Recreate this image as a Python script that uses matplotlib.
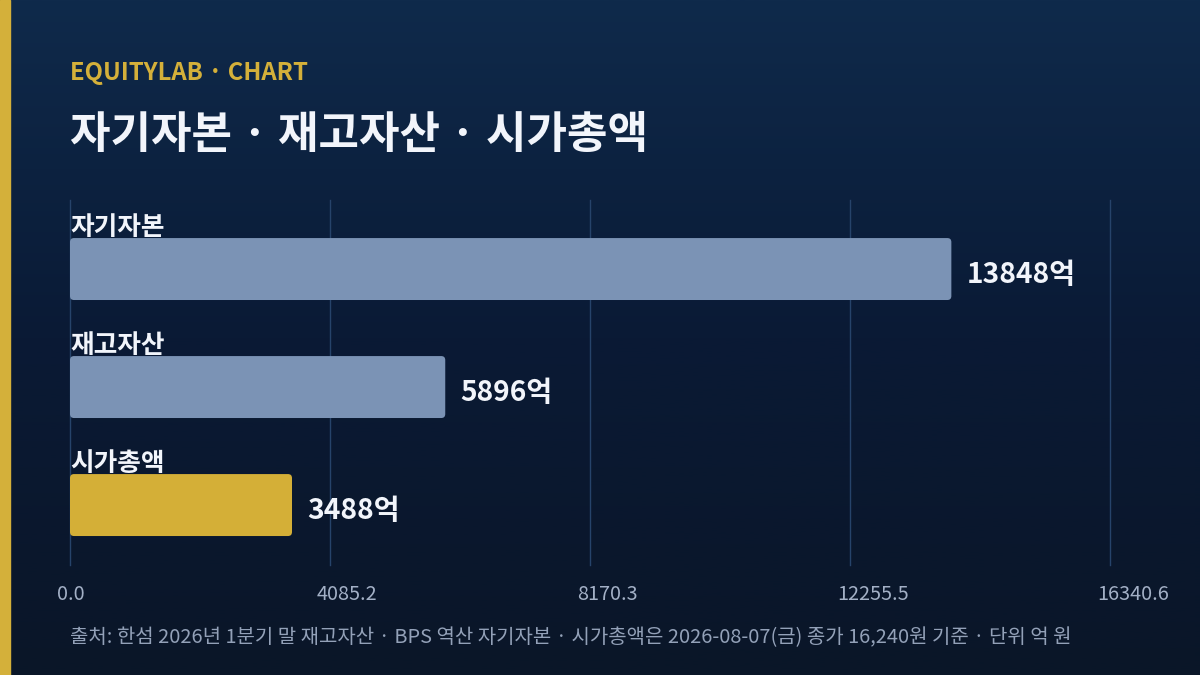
import matplotlib
matplotlib.use("Agg")
import matplotlib.pyplot as plt
import matplotlib.transforms as mtransforms
import numpy as np
from matplotlib.colors import LinearSegmentedColormap
from matplotlib.patches import FancyBboxPatch, Rectangle

plt.rcParams["font.family"] = ["Noto Sans CJK KR", "DejaVu Sans"]

# data
categories = ["자기자본", "재고자산", "시가총액"]
values = [13848, 5896, 3488]
value_labels = ["13848억", "5896억", "3488억"]
bar_colors = ["#7b93b5", "#7b93b5", "#d4af37"]
x_max = 16340.6
x_ticks = [0.0, 4085.2, 8170.3, 12255.5, 16340.6]

kicker = "EQUITYLAB · CHART"
title = "자기자본 · 재고자산 · 시가총액"
footer = "출처: 한섬 2026년 1분기 말 재고자산 · BPS 역산 자기자본 · 시가총액은 2026-08-07(금) 종가 16,240원 기준 · 단위 억 원"

W, H = 1200, 675
fig = plt.figure(figsize=(12, 6.75), dpi=100)

# background gradient
bg = fig.add_axes([0, 0, 1, 1])
bg.set_axis_off()
cmap = LinearSegmentedColormap.from_list("bg", ["#0f2a4b", "#0a1a35", "#0a1628"])
grad = np.linspace(0, 1, 256).reshape(-1, 1)
bg.imshow(grad, aspect="auto", cmap=cmap, extent=[0, 1, 0, 1], origin="upper")
bg.add_patch(Rectangle((0, 0), 10 / W, 1, color="#d4b03a", transform=bg.transAxes))
bg.set_xlim(0, 1)
bg.set_ylim(0, 1)

# header
fig.text(70 / W, 1 - 80 / H, kicker, color="#d4b03a", fontsize=17.2, fontweight="bold", va="baseline")
fig.text(70 / W, 1 - 148 / H, title, color="#f2f5fb", fontsize=31.7, fontweight="bold", va="baseline")

# plot area
ax = fig.add_axes([70 / W, 1 - 565 / H, 1040 / W, 365 / H])
ax.set_facecolor("none")
ax.set_xlim(0, x_max)
ax.set_ylim(2.508, -0.585)

bar_h = 0.525
px_x = x_max / 1040
px_y = 1 / 118
radius = 4 * px_x
for i, (v, c) in enumerate(zip(values, bar_colors)):
    box = FancyBboxPatch((0, i - bar_h / 2), v, bar_h,
                         boxstyle=f"round,pad=0,rounding_size={radius}",
                         mutation_aspect=px_y / px_x,
                         facecolor=c, edgecolor="none", zorder=3)
    ax.add_patch(box)
    ax.text(0, i - bar_h / 2 - 3 * px_y, categories[i], color="#f2f5fb",
            fontsize=18.5, fontweight="bold", va="baseline", ha="left", zorder=4)
    ax.text(v + 15 * px_x, i + 6 * px_y, value_labels[i], color="#f2f5fb",
            fontsize=20.3, fontweight="bold", va="center", ha="left", zorder=4)

ax.set_xticks(x_ticks)
ax.set_xticklabels([f"{t:.1f}" for t in x_ticks])
ax.set_yticks([])
ax.grid(axis="x", color="#26436a", linewidth=1)
for line in ax.get_xgridlines():
    line.set_clip_on(False)
ax.tick_params(axis="x", length=0, pad=14, labelsize=14.3, labelcolor="#a3b0c6")
offset = mtransforms.ScaledTranslation(-13 / 100, 0, fig.dpi_scale_trans)
for lbl in ax.get_xticklabels():
    lbl.set_ha("left")
    lbl.set_transform(lbl.get_transform() + offset)
for s in ax.spines.values():
    s.set_visible(False)

fig.text(70 / W, 1 - 638 / H, footer, color="#93a1b8", fontsize=14.4, va="center", ha="left")

fig.savefig("out.png", dpi=100)
